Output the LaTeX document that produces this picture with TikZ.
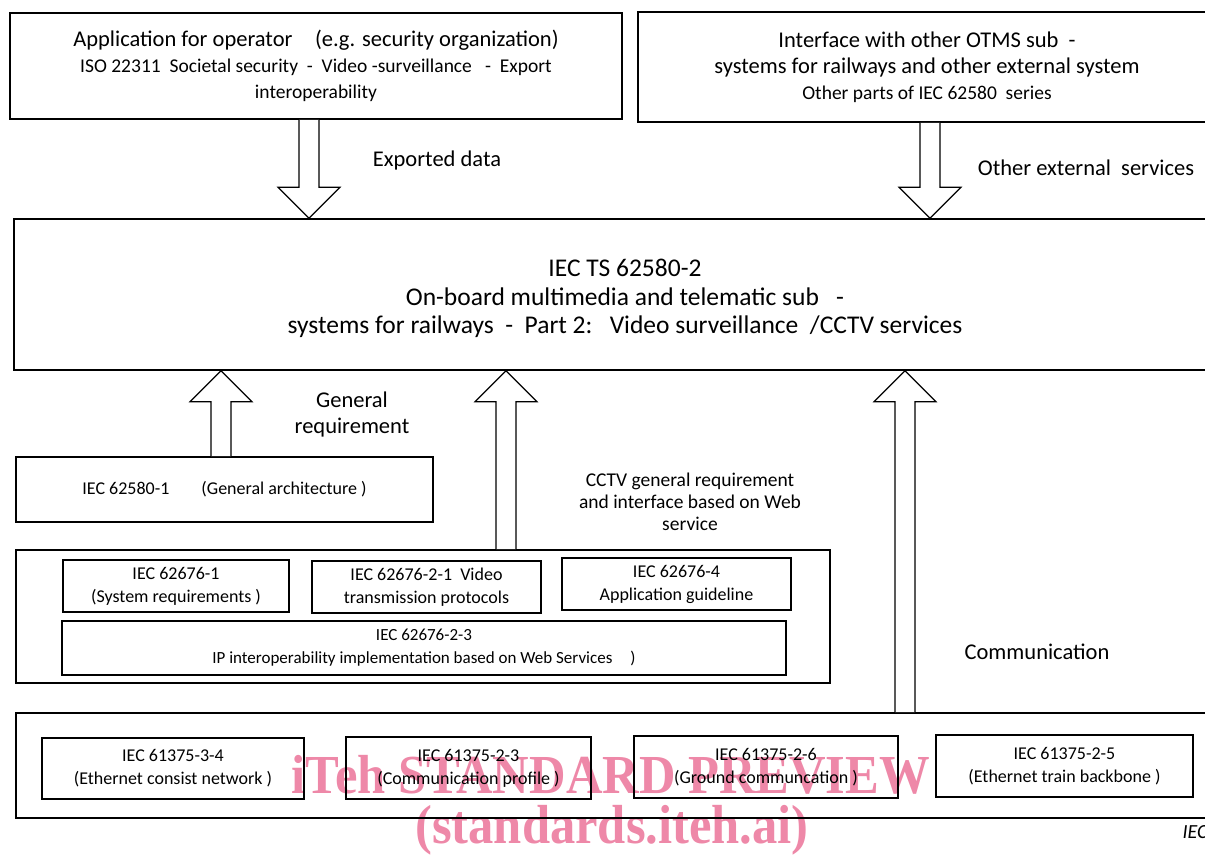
\documentclass[tikz,border=0pt]{standalone}
\usepackage{fontspec}
\setmainfont{Carlito}
\newfontfamily\wmfont{Liberation Serif}
\usetikzlibrary{positioning, calc}
\definecolor{WaterPink}{HTML}{EE88A8}

\tikzset{
  stdbox/.style={draw, line width=1.6pt, align=center, inner sep=0pt},
  fatarrow/.style={draw, line width=1.2pt, fill=white, line join=miter},
  bigfont/.style={font=\fontsize{22.5}{26}\selectfont},
  smallfont/.style={font=\fontsize{18}{23}\selectfont},
  biglbl/.style={align=center, bigfont},
  wmtext/.style={WaterPink, font=\wmfont\bfseries\fontsize{55}{55}\selectfont, xscale=0.92},
}

% hollow block arrows: #1 start of the shaft, #2 the tip
\newcommand{\fatdown}[2]{%
  \draw[fatarrow] let \p1=(#1), \p2=(#2) in
    (\x1-10pt,\y1) -- (\x1-10pt,\y2+31pt) -- (\x1-31pt,\y2+31pt) -- (\x1,\y2)
    -- (\x1+31pt,\y2+31pt) -- (\x1+10pt,\y2+31pt) -- (\x1+10pt,\y1);}
\newcommand{\fatup}[2]{%
  \draw[fatarrow] let \p1=(#1), \p2=(#2) in
    (\x1-10pt,\y1) -- (\x1-10pt,\y2-31pt) -- (\x1-31pt,\y2-31pt) -- (\x1,\y2)
    -- (\x1+31pt,\y2-31pt) -- (\x1+10pt,\y2-31pt) -- (\x1+10pt,\y1);}

\begin{document}
\begin{tikzpicture}[x=1pt, y=-1pt]
    \useasboundingbox (0,0) rectangle (1205,855);

    % watermark sits behind everything
    \node[wmtext] (wm1) at (611,775) {iTeh STANDARD PREVIEW};
    \node[wmtext] (wm2) at (612,830) {(standards.iteh.ai)};

    % top row
    \node[stdbox, minimum width=612, minimum height=106, font=\fontsize{19.5}{26}\selectfont] (app) at (316,66)
      {{\fontsize{22.5}{25}\selectfont Application for operator\quad (e.g. security organization)}\\
       ISO\ 22311\ \ Societal security\ \ -\ \ Video\ -surveillance\ \ \ -\ \ Export\\ interoperability};
    \node[stdbox, minimum width=578, minimum height=110, font=\fontsize{19.5}{26}\selectfont] (iface) at (927,67)
      {{\fontsize{22.5}{25}\selectfont Interface with other OTMS sub\ \ -}\\
       {\fontsize{22.5}{25}\selectfont systems for railways and other external system}\\
       Other parts of IEC\ 62580\ \ series};

    % central specification
    \node[stdbox, minimum width=1222, minimum height=151] (core) at (625,294.5) {};
    \node[align=center, font=\fontsize{25.5}{28.5}\selectfont] (coretext) at ([yshift=-4pt]core.center)
      {IEC TS\ 62580-2\\ On-board multimedia and telematic sub\ \ \ -\\
       systems for railways\ \ -\ \ Part\ 2:\ \ \ Video surveillance\ \ /CCTV services};

    % general architecture
    \node[stdbox, smallfont, minimum width=417, minimum height=65] (arch) at (224.5,489.5)
      {IEC 62580-1\hspace{32pt}(General architecture )};

    % IEC 62676 group
    \node[stdbox, minimum width=814, minimum height=133] (ccgroup) at (423,616.5) {};
    \node[stdbox, smallfont, minimum width=226, minimum height=52] (sysreq) at (176,586)
      {IEC 62676-1\\(System requirements )};
    \node[stdbox, smallfont, minimum width=229, minimum height=52] (vidtx) at (426.5,587)
      {IEC 62676-2-1\ \ Video\\transmission protocols};
    \node[stdbox, smallfont, minimum width=229, minimum height=52] (appguide) at (676.5,584)
      {IEC 62676-4\\Application guideline};
    \node[stdbox, font=\fontsize{17}{23}\selectfont, minimum width=724, minimum height=54] (ipimpl) at (424,648)
      {IEC 62676-2-3\\IP interoperability implementation based on Web Services\hspace{18pt})};

    % IEC 61375 group
    \node[stdbox, minimum width=1214, minimum height=105] (tcn) at (623,765.5) {};
    \node[stdbox, smallfont, minimum width=262, minimum height=61] (ecn) at (173,768.5)
      {IEC 61375-3-4\\(Ethernet consist network\ )};
    \node[stdbox, smallfont, minimum width=245, minimum height=62] (comprof) at (468.5,768)
      {IEC 61375-2-3\\(Communication profile\ )};
    \node[stdbox, smallfont, minimum width=264, minimum height=62] (ground) at (766,767)
      {IEC 61375-2-6\\(Ground communcation\ )};
    \node[stdbox, smallfont, minimum width=257, minimum height=62] (etb) at (1064.5,766)
      {IEC 61375-2-5\\(Ethernet train backbone\ )};

    % arrow columns
    \coordinate (xexp) at (309,0);
    \coordinate (xext) at (930,0);
    \coordinate (xgen) at (221,0);
    \coordinate (xcctv) at (506,0);
    \coordinate (xcom) at (905,0);

    \fatdown{app.south -| xexp}{core.north -| xexp}
    \fatdown{iface.south -| xext}{core.north -| xext}
    \fatup{arch.north -| xgen}{core.south -| xgen}
    \fatup{ccgroup.north -| xcctv}{core.south -| xcctv}
    \fatup{tcn.north -| xcom}{core.south -| xcom}

    % arrow labels
    \node[biglbl] (explbl) at (437,160) {Exported data};
    \node[biglbl] (extlbl) at (1086,168) {Other external\ \ services};
    \node[biglbl] (genlbl) at (352,414) {General\\requirement};
    \node[align=center, font=\fontsize{19.5}{22}\selectfont] (cctvlbl) at (690,502)
      {CCTV general requirement\\and interface based on Web\\service};
    \node[biglbl] (comlbl) at (1037,652) {Communication};

    \node[anchor=west, font=\itshape\fontsize{20}{20}\selectfont] (ieclbl) at (1179,832) {IEC};
\end{tikzpicture}
\end{document}
